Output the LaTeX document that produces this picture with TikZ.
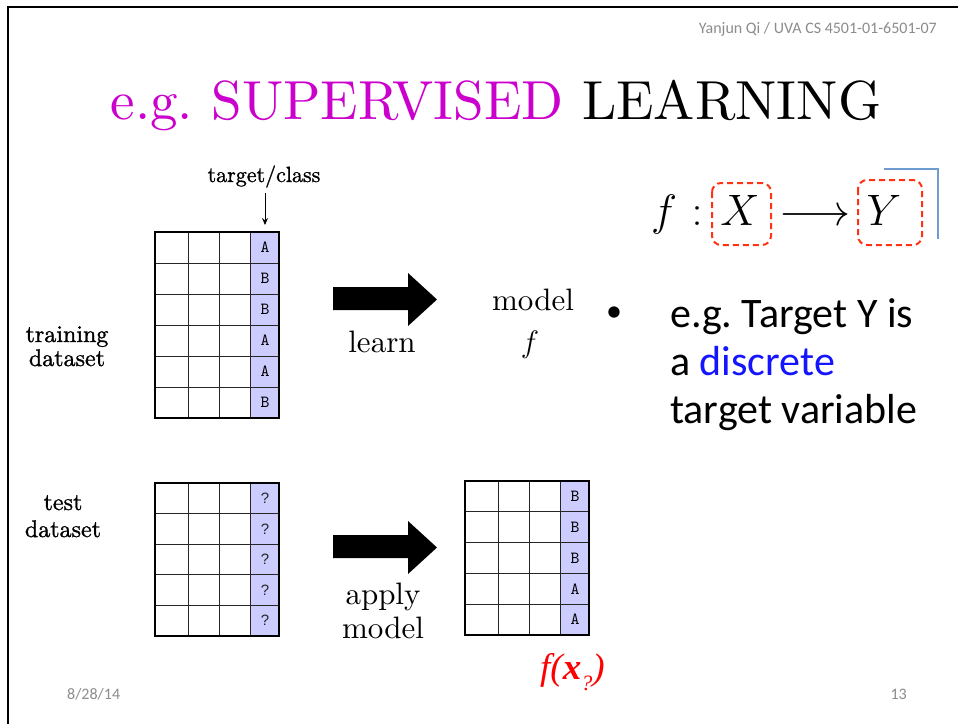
\RequirePackage{fix-cm}
\documentclass[tikz,border=0pt]{standalone}
\usepackage{fontspec}
\setmainfont{lmroman10-regular.otf}[ItalicFont=lmroman10-italic.otf,BoldFont=lmroman10-bold.otf,BoldItalicFont=lmroman10-bolditalic.otf]
\setmonofont{lmmono10-regular.otf}
\setsansfont{Liberation Sans}
\usetikzlibrary{arrows.meta}
\newfontfamily\carlito{Carlito}
\newfontfamily\libserif{Liberation Serif}
\newfontfamily\lmheavy{lmroman10-regular.otf}[FakeBold=1.2]
\frenchspacing
\definecolor{lav}{RGB}{204,204,255}
\definecolor{titlemag}{RGB}{204,0,204}
\definecolor{hdrgray}{RGB}{140,140,140}
\definecolor{dashred}{RGB}{255,51,20}
\definecolor{cornerblue}{RGB}{110,155,210}
\definecolor{discblue}{RGB}{20,20,255}
\tikzset{
  gridline/.style={draw=black!85,line width=1pt},
  outerline/.style={draw=black,line width=2pt},
  cellfont/.style={font=\fontsize{17}{17}\selectfont\ttfamily,inner sep=0pt},
  qfont/.style={font=\fontsize{15}{15}\selectfont\sffamily,text=black!85,inner sep=0pt},
  serlabel/.style={font=\fontsize{24}{24}\selectfont\lmheavy,inner sep=0pt,anchor=base},
  biglabel/.style={font=\fontsize{31}{31}\selectfont,inner sep=0pt,anchor=base},
  hdr/.style={font=\fontsize{16}{16}\selectfont\carlito,text=hdrgray,inner sep=0pt},
  bullettext/.style={font=\fontsize{42}{42}\selectfont\carlito,inner sep=0pt,anchor=base west},
  mathglyph/.style={font=\fontsize{44}{44}\selectfont,inner sep=0pt,anchor=base},
  dashbox/.style={draw=dashred,line width=2pt,dash pattern=on 6pt off 4pt,rounded corners=9pt},
  blockarrow/.style={fill=black},
}
\newcommand\dtable[7]{% name, x, y, nrows, rowh, cellstyle, labels
  \begin{scope}[shift={(#2,#3)}]
    \pgfmathsetmacro\H{#4*#5}
    \fill[lav] (95,0) rectangle (124,\H);
    \foreach \cx in {33,64,95} \draw[gridline] (\cx,0) -- (\cx,\H);
    \foreach \r in {1,...,#4} \draw[gridline] (0,\r*#5) -- (124,\r*#5);
    \draw[outerline] (0,0) rectangle (124,\H);
    \foreach \lab [count=\i] in {#7} \node[#6] (#1-\i) at (110,{(\i-0.5)*#5}) {\lab};
  \end{scope}}
\begin{document}
\begin{tikzpicture}[x=1pt,y=-1pt]
\useasboundingbox (0,0) rectangle (958,724);
\fill[white] (0,0) rectangle (958,724);
% frame lines
\draw[line width=2.2pt] (958,7) -- (8,7) -- (8,724);
% header and footer
\node[hdr,anchor=base east] (header) at (937,33) {Yanjun Qi / UVA CS 4501-01-6501-07};
\node[hdr,anchor=base west] (date) at (67,699) {8/28/14};
\node[hdr,anchor=base east] (page) at (907,699) {13};
% title
\node[font=\fontsize{55}{55}\selectfont,inner sep=0pt,anchor=base] (title) at (496,119)
  {\textcolor{titlemag}{e.g. SUPERVISED} LEARNING};
% tables
\dtable{train}{155}{232}{6}{31}{cellfont}{A,B,B,A,A,B}
\dtable{test}{155}{483}{5}{30.6}{qfont}{?,?,?,?,?}
\dtable{out}{465}{481}{5}{30.8}{cellfont}{B,B,B,A,A}
% target/class label and arrow
\node[font=\fontsize{22}{22}\selectfont\lmheavy,inner sep=0pt,anchor=base] (tc) at (264,182) {target/class};
\coordinate (tcs) at (265,193);
\coordinate (tgt) at (265,225);
\draw[line width=1pt,-{Stealth[length=7pt,width=6pt]}] (tcs) -- (tgt);
% side labels
\node[serlabel] (train1) at (67,342) {training};
\node[serlabel] (train2) at (67,366) {dataset};
\node[serlabel] (test1) at (63,510) {test};
\node[serlabel] (test2) at (63,537) {dataset};
% block arrows
\fill[blockarrow] (333,287) -- (408,287) -- (408,273) -- (437,299.5) -- (408,326) -- (408,310) -- (333,310) -- cycle;
\begin{scope}[yshift=-248pt]
\fill[blockarrow] (333,287) -- (408,287) -- (408,273) -- (437,299.5) -- (408,326) -- (408,310) -- (333,310) -- cycle;
\end{scope}
\node[biglabel] (learn) at (382,352) {learn};
\node[biglabel] (model) at (533,310) {model};
\node[biglabel] (mf) at (530,352) {$f$};
\node[biglabel] (apply) at (383,604) {apply};
\node[biglabel] (model2) at (383,638) {model};
% f(x?)
\node[text=red,font=\fontsize{37}{37}\selectfont\libserif,inner sep=0pt,anchor=base west] (fx) at (540,679)
  {\itshape f(\textbf{x}\raisebox{-0.3em}{\fontsize{22}{22}\selectfont ?})};
% formula
\node[mathglyph] (ff) at (664,225) {$f$};
\node[mathglyph] (colon) at (697,225) {$:$};
\node[mathglyph] (fX) at (740,225) {$X$};
\node[mathglyph] (farr) at (815,225) {$\longrightarrow$};
\node[mathglyph] (fY) at (884,225) {$Y$};
\draw[dashbox] (712,183) rectangle (771,245);
\draw[dashbox] (858,180) rectangle (922,245);
\draw[cornerblue,line width=2.5pt] (884,169) -- (938,169) -- (938,239);
% bullet
\node[font=\fontsize{32}{32}\selectfont\carlito,inner sep=0pt,anchor=base west] (bul) at (606,321) {\textbullet};
\node[bullettext] (b1) at (670,327) {e.g. Target Y is};
\node[bullettext] (b2) at (670,375) {a \textcolor{discblue}{discrete}};
\node[bullettext] (b3) at (670,423) {target variable};
\end{tikzpicture}
\end{document}
